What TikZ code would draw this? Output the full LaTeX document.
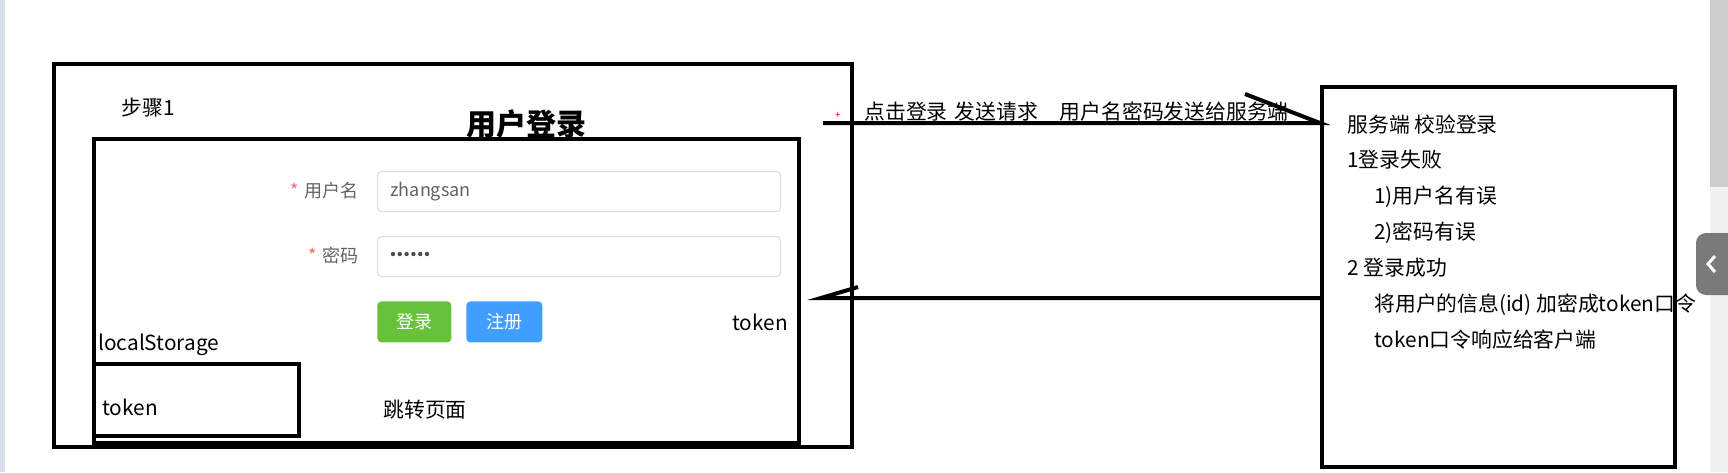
\documentclass[tikz,border=0pt]{standalone}
\usepackage{fontspec}
\setmainfont{Noto Sans CJK SC}
\usetikzlibrary{positioning}

\definecolor{elgreen}{HTML}{67C23A}
\definecolor{elblue}{HTML}{409EFF}
\definecolor{elred}{HTML}{F56C6C}
\definecolor{elgray}{HTML}{606266}
\definecolor{elborder}{HTML}{DCDFE6}
\definecolor{strip}{HTML}{D8DFE8}
\definecolor{track}{HTML}{F0F0F0}
\definecolor{thumb}{HTML}{CDCDCD}
\definecolor{tabgray}{HTML}{7A7A7A}

\begin{document}
\begin{tikzpicture}[x=0.5pt,y=-0.5pt,
    frame/.style={draw,line width=2pt,inner sep=0,anchor=north west},
    wire/.style={line width=2pt},
    txt/.style={anchor=west,inner sep=0,font=\fontsize{10.4}{12}\selectfont},
    lbl/.style={anchor=east,inner sep=0,text=elgray,font=\fontsize{9}{11}\selectfont},
    inbox/.style={draw=elborder,line width=0.6pt,rounded corners=2pt,inner sep=0,
        anchor=north west,minimum width=201.5pt,minimum height=20pt},
    btn/.style={rounded corners=2pt,inner sep=0,anchor=north west,text=white,
        minimum height=20.5pt,font=\fontsize{9}{11}\selectfont}]

    \useasboundingbox (0,0) rectangle (1728,472);

    % screen edges
    \fill[strip] (0,0) rectangle (5,472);
    \fill[track] (1710,0) rectangle (1728,472);
    \fill[thumb] (1710,0) rectangle (1728,187);
    \fill[tabgray,rounded corners=5pt] (1696,233) rectangle (1745,295);
    \draw[white,line width=1.5pt] (1715,256) -- (1708,264) -- (1715,272);

    % client page
    \node[frame,minimum width=399pt,minimum height=191.5pt] (client) at (52,62) {};
    \node[frame,minimum width=352.5pt,minimum height=152pt] (page) at (92,137) {};
    \node[frame,minimum width=102.5pt,minimum height=36pt] (store) at (92,362) {};
    \node[txt] (step) at (121,108) {步骤1};
    \node[inner sep=0,font=\fontsize{15}{18}\selectfont\bfseries] (title) at (526,124) {用户登录};

    % login form
    \node[inbox] (userbox) at (377,171) {};
    \node[inbox] (pwbox) at (377,236) {};
    \node[lbl] (userlbl) at (359,191) {\textcolor{elred}{*}\hspace{3pt}用户名};
    \node[lbl] (pwlbl) at (359,256) {\textcolor{elred}{*}\hspace{3pt}密码};
    \node[lbl,anchor=west] (username) at ([xshift=6.5pt]userbox.west) {zhangsan};
    \foreach \i in {0,...,5}
        \fill[black!70] (393+6.8*\i,254) circle (1.1pt);
    \node[btn,fill=elgreen,minimum width=37pt] (login) at (377,301) {登录};
    \node[btn,fill=elblue,minimum width=38pt] (register) at (466,301) {注册};

    \node[txt] (gottoken) at (732,322) {token};
    \node[txt] (ls) at (98,345) {localStorage};
    \node[txt] (savedtoken) at (102,407) {token};
    \node[txt] (jump) at (383,410) {跳转页面};

    % server
    \node[frame,minimum width=176.5pt,minimum height=190pt] (server) at (1320,85) {};
    \node[txt] (s1) at (1347,125) {服务端 校验登录};
    \node[txt] (s2) at (1347,160) {1登录失败};
    \node[txt] (s3) at (1374,197) {1)用户名有误};
    \node[txt] (s4) at (1374,233) {2)密码有误};
    \node[txt] (s5) at (1347,268) {2 登录成功};
    \node[txt] (s6) at (1374,305) {将用户的信息(id) 加密成token口令};
    \node[txt] (s7) at (1374,340) {token口令响应给客户端};

    % request and response
    \coordinate (req) at (823,123);
    \coordinate (resp) at (821,298);
    \draw[wire] (req) -- (server.west |- req) -- ++(-75,-29);
    \draw[wire] (server.west |- resp) -- (resp) -- ++(37,-11);
    \node[txt] (reqlbl) at (864,112) {点击登录\hspace{3.5pt}发送请求\hspace{11pt}用户名密码发送给服务端};
    \node[inner sep=0,text=purple!70!red,font=\tiny] (cursor) at (838,115) {+};

\end{tikzpicture}
\end{document}
